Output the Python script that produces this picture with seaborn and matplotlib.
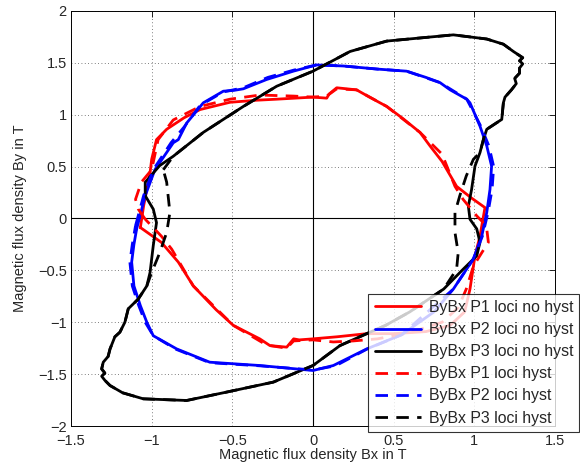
import numpy as np
import pandas as pd
import matplotlib
matplotlib.use("Agg")
import matplotlib.pyplot as plt
import seaborn as sns

### Loci data (Bx, By in T) ###

## P1 no hyst ##
p1_nohyst_x = [-1.07, -1.05, -1.03, -1.01, -1.0, -0.97, -0.907, -0.80, -0.70, -0.515, -0.35, -0.225, 0.0, 0.085,
               0.10, 0.147, 0.27, 0.35, 0.457, 0.56, 0.663, 0.725, 0.80, 0.89, 0.98, 1.066,
               1.035, 1.004, 0.973, 0.94, 0.85, 0.70, 0.50, 0.333, 0.15, 0.0, -0.085, -0.12, -0.163, -0.267,
               -0.33, -0.494, -0.60, -0.742, -0.835, -0.94, -1.04, -1.07]
p1_nohyst_y = [-0.087, 0.12, 0.28, 0.44, 0.57, 0.76, 0.86, 0.97, 1.05, 1.12, 1.14, 1.15, 1.17, 1.16,
               1.20, 1.26, 1.24, 1.17, 1.08, 0.96, 0.83, 0.70, 0.55, 0.31, 0.20, 0.105,
               -0.17, -0.36, -0.68, -0.90, -1.03, -1.09, -1.11, -1.11, -1.14, -1.16, -1.17, -1.16, -1.24, -1.225,
               -1.16, -1.03, -0.88, -0.65, -0.42, -0.23, -0.12, -0.087]

## P2 no hyst ##
p2_nohyst_x = [-1.093, -1.04, -0.98, -0.866, -0.835, -0.783, -0.68, -0.556, -0.49, -0.432, -0.287, -0.122, 0.023,
               0.188, 0.40, 0.58, 0.70, 0.787, 0.85, 0.953, 0.973, 1.035, 1.077, 1.107, 1.097, 1.077, 1.046,
               0.994, 0.87, 0.75, 0.55, 0.333, 0.126, 0.0, -0.33, -0.64, -0.845, -0.99, -1.03, -1.07, -1.11,
               -1.124, -1.11, -1.093]
p2_nohyst_y = [-0.10, 0.22, 0.47, 0.73, 0.76, 0.92, 1.115, 1.227, 1.235, 1.25, 1.34, 1.42, 1.48,
               1.47, 1.44, 1.42, 1.36, 1.31, 1.24, 1.15, 1.115, 0.89, 0.70, 0.505, 0.28, 0.058, -0.17,
               -0.39, -0.68, -0.90, -1.12, -1.257, -1.417, -1.465, -1.417, -1.385, -1.257, -1.13, -1.0, -0.84, -0.65,
               -0.42, -0.25, -0.10]

## P3 no hyst ##
p3_nohyst_x = [-1.04, -1.04, -0.95, -0.866, -0.68, -0.432, -0.225, 0.0, 0.23, 0.457, 0.663, 0.87, 1.077, 1.18,
               1.242, 1.30, 1.28, 1.30, 1.28, 1.28, 1.25, 1.26, 1.23, 1.19, 1.18, 1.17, 1.077, 1.056, 1.035,
               1.004, 0.983, 0.963, 0.973, 1.015, 1.035, 1.015, 0.93, 0.81, 0.60, 0.45, 0.333, 0.167, 0.0,
               -0.246, -0.535, -0.783, -1.052, -1.18, -1.258, -1.29, -1.31, -1.29, -1.31, -1.30, -1.27, -1.258,
               -1.228, -1.197, -1.166, -1.145, -1.083, -1.03, -1.01, -0.99, -0.97, -0.99, -1.04]
p3_nohyst_y = [0.22, 0.35, 0.51, 0.60, 0.83, 1.08, 1.275, 1.42, 1.61, 1.71, 1.74, 1.77, 1.73, 1.68,
               1.61, 1.55, 1.52, 1.49, 1.45, 1.40, 1.35, 1.30, 1.24, 1.17, 1.115, 0.955, 0.86, 0.76, 0.635,
               0.505, 0.28, 0.12, -0.007, -0.10, -0.23, -0.36, -0.49, -0.68, -0.90, -1.03, -1.11, -1.225, -1.417,
               -1.577, -1.673, -1.754, -1.738, -1.68, -1.61, -1.56, -1.52, -1.49, -1.45, -1.385, -1.33, -1.257,
               -1.14, -1.096, -1.0, -0.87, -0.776, -0.65, -0.52, -0.26, -0.04, 0.09, 0.22]

## P1 hyst ##
p1_hyst_x = [-1.04, -1.083, -1.10, -1.064, -1.0, -0.96, -0.866, -0.70, -0.515, -0.33, -0.12, 0.0, 0.085, 0.147,
             0.27, 0.457, 0.663, 0.80, 0.88, 0.93, 1.015, 1.056, 1.077, 1.087, 1.046, 0.994, 0.95, 0.90, 0.80,
             0.60, 0.40, 0.25, 0.126, 0.0, -0.12, -0.163, -0.287, -0.494, -0.742, -0.876, -0.94, -1.04]
p1_hyst_y = [-0.007, 0.09, 0.185, 0.35, 0.47, 0.76, 0.95, 1.08, 1.15, 1.19, 1.18, 1.17, 1.18, 1.25,
             1.24, 1.08, 0.83, 0.62, 0.31, 0.185, 0.025, -0.04, -0.10, -0.23, -0.33, -0.46, -0.68, -0.86, -1.0,
             -1.10, -1.16, -1.18, -1.19, -1.17, -1.18, -1.25, -1.22, -1.03, -0.65, -0.295, -0.17, -0.007]

## P2 hyst ##
p2_hyst_x = [-1.10, -1.05, -0.99, -0.88, -0.80, -0.70, -0.556, -0.432, -0.28, -0.12, 0.02, 0.188, 0.40,
             0.58, 0.787, 0.953, 1.04, 1.09, 1.12, 1.11, 1.085, 1.05, 0.994, 0.87, 0.55, 0.333, 0.14, 0.0,
             -0.33, -0.64, -0.85, -0.99, -1.04, -1.08, -1.12, -1.135, -1.12, -1.10]
p2_hyst_y = [-0.07, 0.22, 0.47, 0.73, 0.88, 1.09, 1.22, 1.26, 1.36, 1.43, 1.48, 1.47, 1.44,
             1.42, 1.31, 1.15, 0.89, 0.70, 0.50, 0.28, 0.06, -0.17, -0.39, -0.68, -1.12, -1.26, -1.42, -1.46,
             -1.42, -1.39, -1.26, -1.13, -1.0, -0.84, -0.65, -0.42, -0.25, -0.07]

## P3 hyst ##
p3_hyst_x = [-0.928, -0.866, -0.68, -0.432, -0.225, 0.0, 0.23, 0.457, 0.663, 0.87, 1.077, 1.18,
             1.242, 1.30, 1.28, 1.30, 1.28, 1.28, 1.25, 1.26, 1.23, 1.19, 1.18, 1.17, 1.077, 1.056, 1.035,
             0.994, 0.95, 0.91, 0.88, 0.88, 0.90, 0.89, 0.81, 0.60, 0.45, 0.333, 0.167, 0.0,
             -0.246, -0.535, -0.783, -1.052, -1.18, -1.258, -1.29, -1.31, -1.29, -1.31, -1.30, -1.27, -1.258,
             -1.228, -1.197, -1.166, -1.145, -1.083, -1.03, -1.0, -0.95, -0.907, -0.887, -0.907, -0.928]
p3_hyst_y = [0.47, 0.60, 0.83, 1.08, 1.275, 1.42, 1.61, 1.71, 1.74, 1.77, 1.73, 1.68,
             1.61, 1.55, 1.52, 1.49, 1.45, 1.40, 1.35, 1.30, 1.24, 1.17, 1.115, 0.955, 0.86, 0.76, 0.635,
             0.57, 0.41, 0.22, 0.058, -0.135, -0.33, -0.49, -0.68, -0.90, -1.03, -1.11, -1.225, -1.417,
             -1.577, -1.673, -1.754, -1.738, -1.68, -1.61, -1.56, -1.52, -1.49, -1.45, -1.385, -1.33, -1.257,
             -1.14, -1.096, -1.0, -0.87, -0.776, -0.65, -0.52, -0.33, -0.135, 0.058, 0.35, 0.47]

series = [
    ('ByBx P1 loci no hyst', p1_nohyst_x, p1_nohyst_y, 'red', '-'),
    ('ByBx P2 loci no hyst', p2_nohyst_x, p2_nohyst_y, 'blue', '-'),
    ('ByBx P3 loci no hyst', p3_nohyst_x, p3_nohyst_y, 'black', '-'),
    ('ByBx P1 loci hyst', p1_hyst_x, p1_hyst_y, 'red', '--'),
    ('ByBx P2 loci hyst', p2_hyst_x, p2_hyst_y, 'blue', '--'),
    ('ByBx P3 loci hyst', p3_hyst_x, p3_hyst_y, 'black', '--'),
]

### Plotting ###
sns.set_style('white')
plt.rcParams['font.family'] = ['Liberation Sans', 'DejaVu Sans']

fig = plt.figure(figsize=(5.8, 4.69), dpi=100)
ax = fig.add_axes([71/580, 1 - 426/469, (555 - 71)/580, (426 - 11)/469])

ax.axhline(0, color='black', lw=0.8, zorder=1)
ax.axvline(0, color='black', lw=0.8, zorder=1)

for name, xs, ys, col, ls in series:
    df = pd.DataFrame({'Bx': xs, 'By': ys})
    sns.lineplot(data=df, x='Bx', y='By', sort=False, estimator=None, color=col,
                 linestyle=ls, linewidth=2, label=name, ax=ax, zorder=3)
    if ls == '--':
        ax.lines[-1].set_dashes((4.5, 3))

#Formatting
ax.set_xlim(-1.5, 1.5)
ax.set_ylim(-2, 2)
ax.set_xticks(np.arange(-1.5, 1.51, 0.5))
ax.set_yticks(np.arange(-2, 2.01, 0.5))
ax.set_xticklabels(['\u22121.5', '\u22121', '\u22120.5', '0', '0.5', '1', '1.5'])
ax.set_yticklabels(['\u22122', '\u22121.5', '\u22121', '\u22120.5', '0', '0.5', '1', '1.5', '2'])
ax.grid(True, linestyle=(0, (1, 3)), color='#555555', linewidth=0.6)
ax.tick_params(direction='in', length=4, width=0.6, top=True, right=True, labelsize=10.5,
               color='black')
ax.tick_params(axis='x', pad=6)
ax.tick_params(axis='y', pad=3)
for s in ax.spines.values():
    s.set_color('black')
    s.set_linewidth(0.7)
ax.set_xlabel('Magnetic flux density Bx in T', fontsize=10.5, labelpad=0)
ax.set_ylabel('Magnetic flux density By in T', fontsize=10.5, labelpad=8)

leg = ax.legend(loc='lower right', bbox_to_anchor=(0.999, 0.079), bbox_transform=fig.transFigure,
                fontsize=11.4, handlelength=2.95, handletextpad=0.45, labelspacing=0.45,
                borderpad=0.4, frameon=True, fancybox=False, borderaxespad=0)
leg.get_frame().set_edgecolor('black')
leg.get_frame().set_linewidth(0.8)
leg.set_zorder(10)
for h in leg.get_lines():
    h.set_linewidth(2)

plt.savefig('out.png', dpi=100)
